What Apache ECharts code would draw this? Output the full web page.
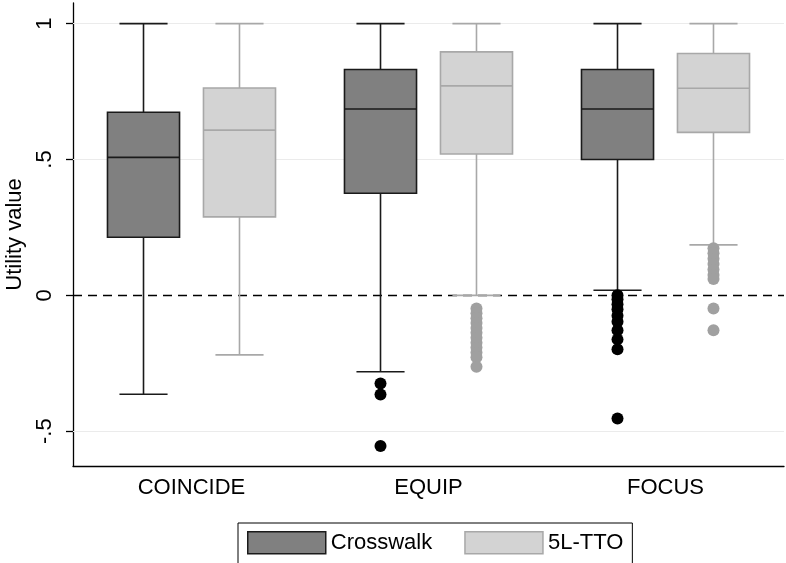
<!DOCTYPE html>
<html>
<head>
<meta charset="utf-8">
<script src="https://cdn.jsdelivr.net/npm/echarts@6/dist/echarts.min.js"></script>
<style>html,body{margin:0;padding:0;background:#fff}#c{width:786px;height:563px}</style>
</head>
<body>
<div id="c"></div>
<script>
// ---- data ----
var categories = ['COINCIDE', 'EQUIP', 'FOCUS'];
// [lower whisker, q1, median, q3, upper whisker]
var crosswalkStats = [
  [-0.364, 0.214, 0.508, 0.674, 1.0],
  [-0.281, 0.376, 0.686, 0.831, 1.0],
  [0.019, 0.500, 0.686, 0.831, 1.0]
];
var ttoStats = [
  [-0.219, 0.289, 0.608, 0.763, 1.0],
  [0.000, 0.520, 0.771, 0.896, 1.0],
  [0.186, 0.600, 0.762, 0.890, 1.0]
];
var crosswalkOutliers = [
  [],
  [-0.324, -0.365, -0.554],
  [0.000, -0.014, -0.033, -0.051, -0.075, -0.097, -0.128, -0.162, -0.198, -0.453]
];
var ttoOutliers = [
  [],
  [-0.048, -0.066, -0.084, -0.102, -0.120, -0.138, -0.156, -0.174, -0.192, -0.210, -0.228, -0.263],
  [0.173, 0.155, 0.135, 0.115, 0.095, 0.075, 0.060, -0.048, -0.128]
];
var yTicks = [-0.5, 0, 0.5, 1];
var yLabels = ['-.5', '0', '.5', '1'];
var seriesNames = ['Crosswalk', '5L-TTO'];

// ---- styling ----
var FONT = '"Liberation Sans", Arial, Helvetica, sans-serif';
var OFFSET = 0.2025, BOXW = 0.304, CAPW = 0.203;
var styles = [
  {fill: '#808080', stroke: '#1a1a1a', dot: '#000000', side: -1},
  {fill: '#d3d3d3', stroke: '#a8a8a8', dot: '#a0a0a0', side: 1}
];

function boxData(stats) {
  return stats.map(function (s, i) { return [i].concat(s); });
}
function outlierData(outs) {
  var d = [];
  outs.forEach(function (arr, i) { arr.forEach(function (v) { d.push([i, v]); }); });
  return d;
}

function boxRenderer(st) {
  return function (params, api) {
    var c = api.value(0);
    var band = api.size([1, 0])[0];
    var x = api.coord([c, 0])[0] + st.side * band * OFFSET;
    var y = [1, 2, 3, 4, 5].map(function (k) { return api.coord([c, api.value(k)])[1]; });
    var bw = band * BOXW, cw = band * CAPW;
    var ls = {stroke: st.stroke, lineWidth: 1.6};
    return {type: 'group', children: [
      {type: 'line', shape: {x1: x, y1: y[3], x2: x, y2: y[4]}, style: ls},
      {type: 'line', shape: {x1: x, y1: y[1], x2: x, y2: y[0]}, style: ls},
      {type: 'line', shape: {x1: x - cw / 2, y1: y[4], x2: x + cw / 2, y2: y[4]}, style: ls},
      {type: 'line', shape: {x1: x - cw / 2, y1: y[0], x2: x + cw / 2, y2: y[0]}, style: ls},
      {type: 'rect', shape: {x: x - bw / 2, y: y[3], width: bw, height: y[1] - y[3]},
        style: {fill: st.fill, stroke: st.stroke, lineWidth: 1.6}},
      {type: 'line', shape: {x1: x - bw / 2, y1: y[2], x2: x + bw / 2, y2: y[2]}, style: ls}
    ]};
  };
}
function dotRenderer(st) {
  return function (params, api) {
    var c = api.value(0);
    var band = api.size([1, 0])[0];
    var x = api.coord([c, 0])[0] + st.side * band * OFFSET;
    var y = api.coord([c, api.value(1)])[1];
    return {type: 'circle', shape: {cx: x, cy: y, r: 6}, style: {fill: st.dot}};
  };
}

var series = [
  {
    type: 'line', data: [], silent: true, z: 1,
    markLine: {
      silent: true, symbol: 'none', label: {show: false}, animation: false, z: 1,
      data: yTicks.filter(function (v) { return v !== 0; }).map(function (v) {
        return {yAxis: v, lineStyle: {color: '#ebebeb', width: 1.2, type: 'solid'}};
      }).concat([{yAxis: 0, lineStyle: {color: '#000', width: 1.4, type: [9, 6]}}])
    }
  }
];
[crosswalkStats, ttoStats].forEach(function (stats, k) {
  series.push({
    name: seriesNames[k], type: 'custom', z: 3,
    itemStyle: {color: styles[k].fill, borderColor: styles[k].stroke, borderWidth: 1.5},
    renderItem: boxRenderer(styles[k]),
    encode: {x: 0, y: [1, 2, 3, 4, 5]},
    data: boxData(stats)
  });
});
[crosswalkOutliers, ttoOutliers].forEach(function (outs, k) {
  series.push({
    name: seriesNames[k], type: 'custom', z: 4,
    itemStyle: {color: styles[k].fill, borderColor: styles[k].stroke},
    renderItem: dotRenderer(styles[k]),
    encode: {x: 0, y: 1},
    data: outlierData(outs)
  });
});

var chart = echarts.init(document.getElementById('c'), null, {renderer: 'canvas'});
chart.setOption({
  animation: false,
  backgroundColor: '#fff',
  textStyle: {fontFamily: FONT},
  grid: {left: 73, right: 2, top: 3, bottom: 97, containLabel: false, outerBoundsMode: 'none'},
  xAxis: {
    type: 'category', data: categories,
    axisLine: {show: true, onZero: false, lineStyle: {color: '#000', width: 1.3}},
    axisTick: {show: false},
    axisLabel: {color: '#000', fontSize: 22, fontFamily: FONT, margin: 11},
    splitLine: {show: false}
  },
  yAxis: {
    type: 'value', min: -0.628, max: 1.076,
    name: 'Utility value', nameLocation: 'middle', nameGap: 47, nameRotate: 90,
    nameTextStyle: {color: '#000', fontSize: 22, fontFamily: FONT},
    axisLine: {show: true, onZero: false, lineStyle: {color: '#000', width: 1.3}},
    axisTick: {show: true, customValues: yTicks, length: 7, lineStyle: {color: '#000', width: 1.3}},
    axisLabel: {
      show: true, customValues: yTicks, rotate: 90, margin: 17,
      color: '#000', fontSize: 22, fontFamily: FONT,
      formatter: function (v) {
        var i = yTicks.indexOf(v);
        return i >= 0 ? yLabels[i] : '';
      }
    },
    splitLine: {show: false}
  },
  legend: {
    data: [
      {name: seriesNames[0], itemStyle: {color: styles[0].fill, borderColor: styles[0].stroke, borderWidth: 1.5}},
      {name: seriesNames[1], itemStyle: {color: styles[1].fill, borderColor: styles[1].stroke, borderWidth: 1.5}}
    ],
    left: 238, top: 523,
    orient: 'horizontal',
    icon: 'rect', itemWidth: 78, itemHeight: 22, itemGap: 32,
    borderColor: '#000', borderWidth: 1, borderRadius: 0,
    padding: [8, 9, 9, 9],
    textStyle: {color: '#000', fontSize: 22, fontFamily: FONT},
    selectedMode: false
  },
  series: series
});
</script>
</body>
</html>
